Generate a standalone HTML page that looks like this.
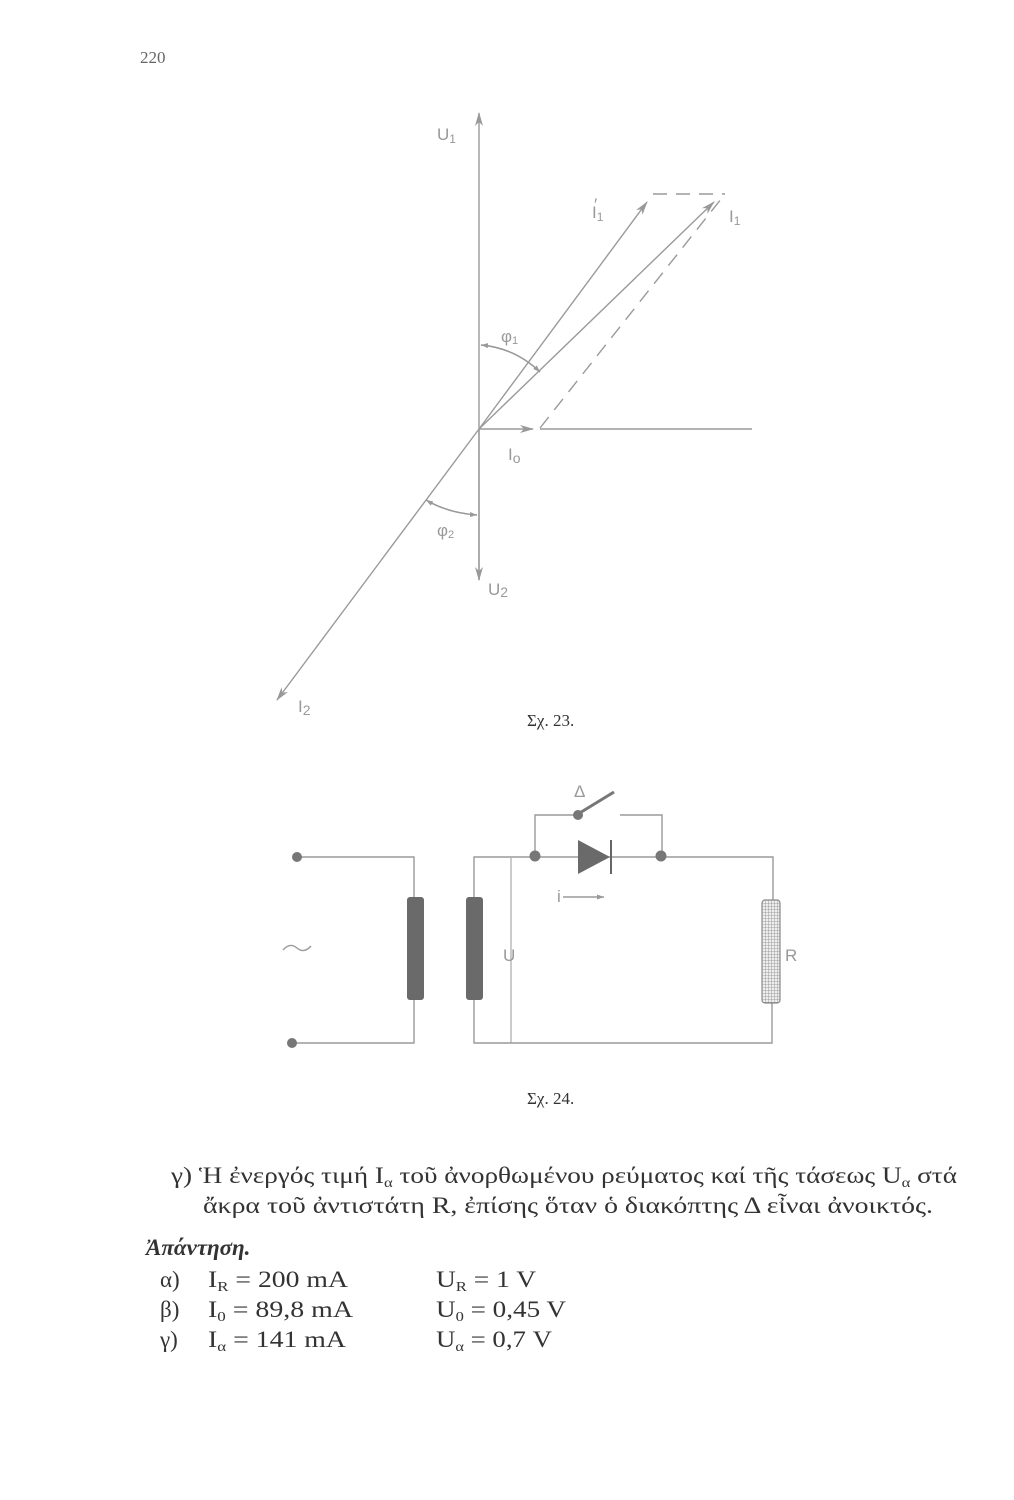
<!DOCTYPE html>
<html><head><meta charset="utf-8"><style>
html,body{margin:0;padding:0;background:#fff;}
svg{display:block;}
.g{stroke:#9a9a9a;stroke-width:1.4;fill:none;}
.lbl{font-family:"Liberation Sans","DejaVu Sans",sans-serif;fill:#999;font-size:17px;}
.t{font-family:"Liberation Serif","DejaVu Serif",serif;fill:#333;font-size:23px;}
</style></head><body>
<svg width="1014" height="1500" viewBox="0 0 1014 1500" xmlns="http://www.w3.org/2000/svg">
<defs>
<marker id="a" markerWidth="14" markerHeight="8" refX="13" refY="4" orient="auto" markerUnits="userSpaceOnUse">
<path d="M0,0 L14,4 L0,8 L4,4 Z" fill="#999"/></marker>
<marker id="s" markerWidth="7" markerHeight="5" refX="7" refY="2.5" orient="auto" markerUnits="userSpaceOnUse">
<path d="M0,0 L7,2.5 L0,5 Z" fill="#999"/></marker>
<pattern id="h" width="3" height="3" patternUnits="userSpaceOnUse"><rect width="3" height="3" fill="#eee"/><path d="M0,0H3M0,0V3" stroke="#888" stroke-width="0.8"/></pattern>
</defs>
<text x="140" y="63" class="t" style="font-size:17px;fill:#666">220</text>

<!-- phasor diagram -->
<line class="g" x1="479" y1="580" x2="479" y2="113" marker-end="url(#a)"/>
<line class="g" x1="479" y1="429" x2="479" y2="580" marker-end="url(#a)"/>
<line class="g" x1="479" y1="429" x2="647" y2="202" marker-end="url(#a)"/>
<line class="g" x1="479" y1="429" x2="714" y2="202" marker-end="url(#a)"/>
<line class="g" x1="479" y1="429" x2="277" y2="700" marker-end="url(#a)"/>
<line class="g" x1="479" y1="429" x2="533" y2="429" marker-end="url(#a)"/>
<line class="g" x1="540" y1="429" x2="752" y2="429"/>
<line class="g" x1="540" y1="428" x2="725" y2="194" stroke-dasharray="14,9"/>
<line class="g" x1="653" y1="194" x2="725" y2="194" stroke-dasharray="14,9"/>
<path class="g" d="M540,372 Q515,348 481,345" marker-end="url(#s)"/>
<path class="g" d="M481,345 Q515,348 540,372" marker-end="url(#s)"/>
<path class="g" d="M477,515 Q448,513 426,500" marker-end="url(#s)"/>
<path class="g" d="M426,500 Q448,513 477,515" marker-end="url(#s)"/>
<text class="lbl" x="437" y="140">U<tspan font-size="12" dy="3">1</tspan></text>
<text class="lbl" x="592" y="218">I<tspan font-size="12" dy="3">1</tspan></text>
<text class="lbl" x="594" y="210" font-size="13">′</text>
<text class="lbl" x="729" y="222">I<tspan font-size="12" dy="3">1</tspan></text>
<text class="lbl" x="501" y="342" font-size="14">φ<tspan font-size="11" dy="2">1</tspan></text>
<text class="lbl" x="437" y="536" font-size="14">φ<tspan font-size="11" dy="2">2</tspan></text>
<text class="lbl" x="508" y="460">I<tspan font-size="14" dy="3">o</tspan></text>
<text class="lbl" x="488" y="595">U<tspan font-size="14" dy="2">2</tspan></text>
<text class="lbl" x="298" y="712">I<tspan font-size="14" dy="3">2</tspan></text>
<text class="t" x="527" y="726" style="font-size:17px">Σχ. 23.</text>

<!-- circuit -->
<g class="g">
<polyline points="297,857 414,857 414,900"/>
<polyline points="414,998 414,1043 292,1043"/>
<polyline points="474,900 474,857 773,857 773,902"/>
<polyline points="474,998 474,1043 772,1043 772,1002"/>
<polyline points="535,857 535,815 575,815"/>
<polyline points="620,815 662,815 662,857"/>
<line x1="578" y1="814" x2="614" y2="792" stroke="#777" stroke-width="3"/>
<line x1="511" y1="858" x2="511" y2="1043" stroke-width="1"/>
<line x1="563" y1="897" x2="604" y2="897" marker-end="url(#s)"/>
</g>
<rect x="407" y="897" width="17" height="103" rx="3" fill="#6a6a6a"/>
<rect x="466" y="897" width="17" height="103" rx="3" fill="#6a6a6a"/>
<rect x="762" y="900" width="18" height="103" rx="3" fill="url(#h)" stroke="#888" stroke-width="1.2"/>
<path d="M578,840 L610,857 L578,874 Z" fill="#6a6a6a"/>
<line x1="611" y1="840" x2="611" y2="874" stroke="#666" stroke-width="2"/>
<circle cx="297" cy="857" r="5" fill="#777"/>
<circle cx="292" cy="1043" r="5" fill="#777"/>
<circle cx="535" cy="856" r="5.5" fill="#777"/>
<circle cx="661" cy="856" r="5.5" fill="#777"/>
<circle cx="578" cy="815" r="5" fill="#777"/>
<text class="lbl" x="574" y="797" font-size="15">Δ</text>
<text class="lbl" x="557" y="902" font-size="14">i</text>
<text class="lbl" x="503" y="961" font-size="16">U</text>
<text class="lbl" x="785" y="961" font-size="16">R</text>
<path class="g" d="M283,950 Q290,942 297,948 Q304,954 311,946"/>
<text class="t" x="527" y="1104" style="font-size:17px">Σχ. 24.</text>

<!-- text -->
<text class="t" x="171" y="1183" textLength="786" lengthAdjust="spacingAndGlyphs">γ) Ἡ ἐνεργός τιμή I<tspan font-size="14" dy="4">α</tspan><tspan dy="-4"> τοῦ ἀνορθωμένου ρεύματος καί τῆς τάσεως U</tspan><tspan font-size="14" dy="4">α</tspan><tspan dy="-4"> στά</tspan></text>
<text class="t" x="203" y="1213" textLength="730" lengthAdjust="spacingAndGlyphs">ἄκρα τοῦ ἀντιστάτη R, ἐπίσης ὅταν ὁ διακόπτης Δ εἶναι ἀνοικτός.</text>
<text class="t" x="146" y="1255" font-weight="bold" font-style="italic">Ἀπάντηση.</text>
<text class="t" x="160" y="1287">α)</text>
<text class="t" x="208" y="1287" textLength="140" lengthAdjust="spacingAndGlyphs">I<tspan font-size="14" dy="4">R</tspan><tspan dy="-4"> =  200 mA</tspan></text>
<text class="t" x="436" y="1287" textLength="100" lengthAdjust="spacingAndGlyphs">U<tspan font-size="14" dy="4">R</tspan><tspan dy="-4"> =  1 V</tspan></text>
<text class="t" x="160" y="1317">β)</text>
<text class="t" x="208" y="1317" textLength="145" lengthAdjust="spacingAndGlyphs">I<tspan font-size="14" dy="4">0</tspan><tspan dy="-4"> =  89,8 mA</tspan></text>
<text class="t" x="436" y="1317" textLength="130" lengthAdjust="spacingAndGlyphs">U<tspan font-size="14" dy="4">0</tspan><tspan dy="-4"> =  0,45 V</tspan></text>
<text class="t" x="160" y="1347">γ)</text>
<text class="t" x="208" y="1347" textLength="138" lengthAdjust="spacingAndGlyphs">I<tspan font-size="14" dy="4">α</tspan><tspan dy="-4"> =  141 mA</tspan></text>
<text class="t" x="436" y="1347" textLength="116" lengthAdjust="spacingAndGlyphs">U<tspan font-size="14" dy="4">α</tspan><tspan dy="-4"> =  0,7 V</tspan></text>
</svg>
</body></html>
